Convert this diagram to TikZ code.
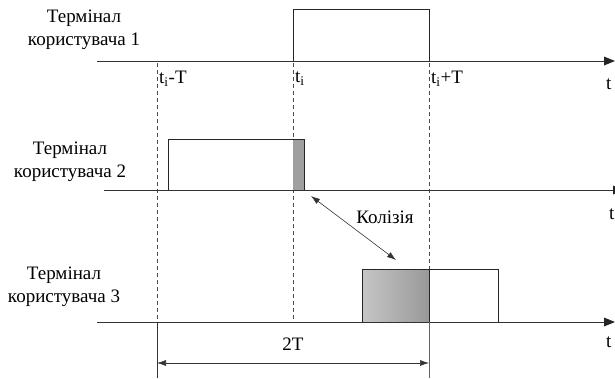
\documentclass[tikz,border=0pt]{standalone}
\usepackage{fontspec}
\setmainfont{Liberation Serif}
\usetikzlibrary{arrows.meta}
\begin{document}
\begin{tikzpicture}[x=1pt,y=-1pt,
  timeline/.style={line width=1pt,draw=black!80},
  tipfill/.style={fill=black!85},
  pulse/.style={line width=1pt,draw=black!85},
  guide/.style={line width=0.5pt,draw=black!70,dash pattern=on 4pt off 3pt},
  lbl/.style={font=\fontsize{19}{23}\selectfont,align=center,inner sep=0pt},
  tl/.style={font=\fontsize{19}{23}\selectfont,anchor=west,inner sep=0pt},
  dim/.style={line width=0.6pt,draw=black!80,arrows={Latex[length=9pt,width=6pt]-Latex[length=9pt,width=6pt]}},
  txt/.style={font=\fontsize{19}{23}\selectfont,inner sep=0pt}]
\useasboundingbox (0,0) rectangle (615,378);
% coordinates
\coordinate (a1s) at (97,61);  \coordinate (a1e) at (605,61);
\coordinate (a2s) at (104,190); \coordinate (a2e) at (613,190);
\coordinate (a3s) at (97,322); \coordinate (a3e) at (605,322);
% guides
\coordinate (g1t) at (157,63); \coordinate (g1b) at (157,322);
\coordinate (g2t) at (293,63); \coordinate (g2b) at (293,322);
\coordinate (g3t) at (429,63); \coordinate (g3b) at (429,269);
\draw[guide] (g1t) -- (g1b);
\draw[guide] (g2t) -- (g2b);
\draw[guide] (g3t) -- (g3b);
% pulse 2 gray part
\fill[gray!75] (293,139) rectangle (304,190);
% pulse 3 shaded part
\shade[left color=gray!45,right color=gray!80] (362,269) rectangle (429,322);
% pulses
\draw[pulse] (293,61) -- (293,9) -- (429,9) -- (429,61);
\draw[pulse] (168,190) -- (168,139) -- (304,139) -- (304,190);
\draw[pulse] (362,322) -- (362,269) -- (498,269) -- (498,322);
\draw[pulse] (429,269) -- (429,322);
% axes
\draw[timeline] (a1s) -- (a1e);
\fill[tipfill] (a1e) ++(-1,-4.5) -- ++(11,4.5) -- ++(-11,4.5) -- cycle;
\draw[timeline] (a2s) -- (a2e);
\fill[tipfill] (a2e) ++(0,-4.5) -- ++(11,4.5) -- ++(-11,4.5) -- cycle;
\draw[timeline] (a3s) -- (a3e);
\fill[tipfill] (a3e) ++(-1,-4.5) -- ++(11,4.5) -- ++(-11,4.5) -- cycle;
% dimension
\coordinate (d1t) at (157,322); \coordinate (d1b) at (157,378);
\coordinate (d2t) at (429,322); \coordinate (d2b) at (429,378);
\draw[line width=0.6pt,black!80] (d1t) -- (d1b);
\draw[line width=0.6pt,black!60] (d2t) -- (d2b);
\coordinate (dl) at (157,363); \coordinate (dr) at (429,363);
\draw[dim] (dl) -- (dr);
\node[txt] (twoT) at (293,344) {2T};
% collision
\coordinate (c1) at (311,196); \coordinate (c2) at (396,260);
\draw[dim] (c1) -- (c2);
\node[txt] (kol) at (385,217) {Колізія};
% labels
\node[lbl] (L1) at (84,30) {Термінал\\користувача 1};
\node[lbl] (L2) at (70,162) {Термінал\\користувача 2};
\node[lbl] (L3) at (64,287) {Термінал\\користувача 3};
% time labels
\node[tl] (t1) at (159,79) {t\textsubscript{i}-T};
\node[tl] (t2) at (295,79) {t\textsubscript{i}};
\node[tl] (t3) at (431,79) {t\textsubscript{i}+T};
\node[tl] (tt1) at (606,84) {t};
\node[tl] (tt2) at (609,214) {t};
\node[tl] (tt3) at (606,342) {t};
\end{tikzpicture}
\end{document}
